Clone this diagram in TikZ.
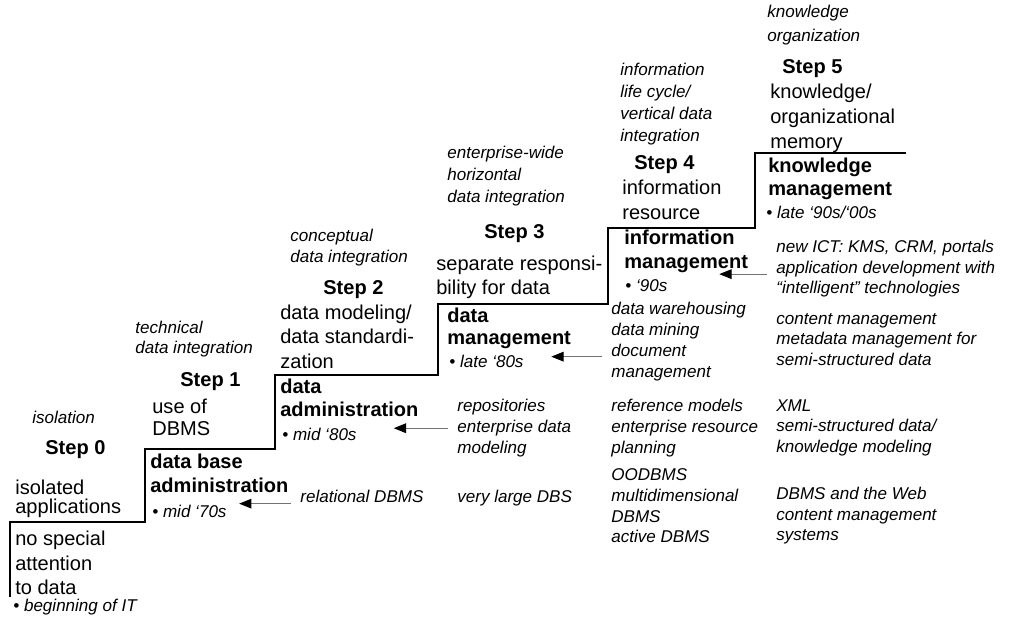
\documentclass[tikz,border=0pt]{standalone}
\usepackage{fontspec}
\setmainfont{Liberation Sans}
\usetikzlibrary{arrows.meta}

\begin{document}
\begin{tikzpicture}[
    stair/.style={line width=0.9pt},
    txt/.style={inner sep=0pt, anchor=north west, align=left},
    note/.style={txt, font=\fontsize{9.7}{11.9}\selectfont\itshape},
    steptitle/.style={txt, font=\fontsize{11.4}{13.7}\selectfont\bfseries},
    desc/.style={txt, font=\fontsize{11.4}{13.7}\selectfont},
    stage/.style={txt, font=\fontsize{11.4}{13.1}\selectfont\bfseries},
    feed/.style={draw=black!55, line width=0.6pt, -{Triangle[length=7pt,width=5.5pt,color=black]}},
]
    \useasboundingbox (0,0) rectangle (20.2,-12.38);

    % the staircase
    \draw[stair] (0.2,-11.94) |- (2.9,-10.44) |- (5.5,-8.98) |- (8.76,-7.5)
        |- (12.16,-6.08) |- (15.1,-4.56) |- (18.12,-3.06);

    % Step 0
    \node[note] (isol) at (0.64,-8.22) {isolation};
    \node[steptitle] (step0) at (0.9,-8.8) {Step 0};
    \node[desc, font=\fontsize{11.4}{10.8}\selectfont] (isoapp) at (0.3,-9.6) {isolated\\applications};
    \node[desc, font=\fontsize{11.4}{13.9}\selectfont] (noattn) at (0.3,-10.62) {no special\\attention\\to data};
    \node[note] (beginit) at (0.26,-11.98) {• beginning of IT};

    % Step 1
    \node[note, font=\fontsize{9.7}{11.4}\selectfont\itshape] (techint) at (2.7,-6.42) {technical\\data integration};
    \node[steptitle] (step1) at (3.6,-7.44) {Step 1};
    \node[desc, font=\fontsize{11.4}{12.5}\selectfont] (usedbms) at (3.04,-7.98) {use of\\DBMS};
    \node[stage, font=\fontsize{11.4}{13.7}\selectfont\bfseries] (dbadmin) at (3.0,-9.08) {data base\\administration};
    \node[note] (mid70) at (3.04,-10.1) {• mid ‘70s};
    \node[note] (reldbms) at (6.0,-9.8) {relational DBMS};

    % Step 2
    \node[note] (concint) at (5.8,-4.58) {conceptual\\data integration};
    \node[steptitle] (step2) at (6.46,-5.6) {Step 2};
    \node[desc] (datamod) at (5.6,-6.1) {data modeling/\\data standardi-\\zation};
    \node[stage] (dadmin) at (5.6,-7.58) {data\\administration};
    \node[note] (mid80) at (5.64,-8.56) {• mid ‘80s};
    \node[note] (repos) at (9.14,-7.98) {repositories\\enterprise data\\modeling};
    \node[note] (vldbs) at (9.14,-9.8) {very large DBS};

    % Step 3
    \node[note, font=\fontsize{9.7}{12.5}\selectfont\itshape] (horint) at (8.94,-2.92) {enterprise-wide\\horizontal\\data integration};
    \node[steptitle] (step3) at (9.68,-4.48) {Step 3};
    \node[desc] (seprsp) at (8.72,-5.12) {separate responsi-\\bility for data};
    \node[stage, font=\fontsize{11.4}{12.5}\selectfont\bfseries] (dmgmt) at (8.94,-6.16) {data\\management};
    \node[note] (late80) at (8.98,-7.1) {• late ‘80s};
    \node[note] (dwh) at (12.22,-6.04) {data warehousing\\data mining\\document\\management};
    \node[note] (refmod) at (12.22,-7.98) {reference models\\enterprise resource\\planning};
    \node[note] (oodbms) at (12.22,-9.36) {OODBMS\\multidimensional\\DBMS\\active DBMS};

    % Step 4
    \node[note, font=\fontsize{9.7}{12.5}\selectfont\itshape] (vertint) at (12.4,-1.26) {information\\life cycle/\\vertical data\\integration};
    \node[steptitle] (step4) at (12.68,-3.1) {Step 4};
    \node[desc, font=\fontsize{11.4}{14.2}\selectfont] (infres) at (12.44,-3.6) {information\\resource};
    \node[stage, font=\fontsize{11.4}{13.7}\selectfont\bfseries] (imgmt) at (12.48,-4.6) {information\\management};
    \node[note] (y90) at (12.5,-5.58) {• ‘90s};
    \node[note, font=\fontsize{9.7}{11.7}\selectfont\itshape] (newict) at (15.52,-4.8) {new ICT: KMS, CRM, portals\\application development with\\“intelligent” technologies};
    \node[note, font=\fontsize{9.7}{11.7}\selectfont\itshape] (cms) at (15.52,-6.26) {content management\\metadata management for\\semi-structured data};
    \node[note, font=\fontsize{9.7}{11.7}\selectfont\itshape] (xml) at (15.52,-7.98) {XML\\semi-structured data/\\knowledge modeling};
    \node[note, font=\fontsize{9.7}{11.7}\selectfont\itshape] (dbweb) at (15.52,-9.74) {DBMS and the Web\\content management\\systems};

    % Step 5
    \node[note, font=\fontsize{9.7}{13.7}\selectfont\itshape] (knorg) at (15.34,-0.1) {knowledge\\organization};
    \node[steptitle] (step5) at (15.64,-1.18) {Step 5};
    \node[desc, font=\fontsize{11.4}{14.2}\selectfont] (orgmem) at (15.4,-1.68) {knowledge/\\organizational\\memory};
    \node[stage] (kmgmt) at (15.36,-3.16) {knowledge\\management};
    \node[note] (late90) at (15.32,-4.12) {• late ‘90s/‘00s};

    % technologies feeding each stage
    \draw[feed] ([xshift=-5pt,yshift=-4pt]reldbms.west) -- ([xshift=7pt,yshift=-4pt]reldbms.west -| mid70.east);
    \draw[feed] ([xshift=-5pt]repos.west) -- ([xshift=-0.5cm]repos.west -| dadmin.east);
    \draw[feed] ([xshift=-5pt,yshift=-0.3cm]dwh.west) -- ([xshift=-0.4cm,yshift=-0.3cm]dwh.west -| dmgmt.east);
    \draw[feed] ([xshift=-5pt,yshift=-3pt]newict.west) -- ([xshift=-0.58cm,yshift=-3pt]newict.west -| imgmt.east);
\end{tikzpicture}
\end{document}
